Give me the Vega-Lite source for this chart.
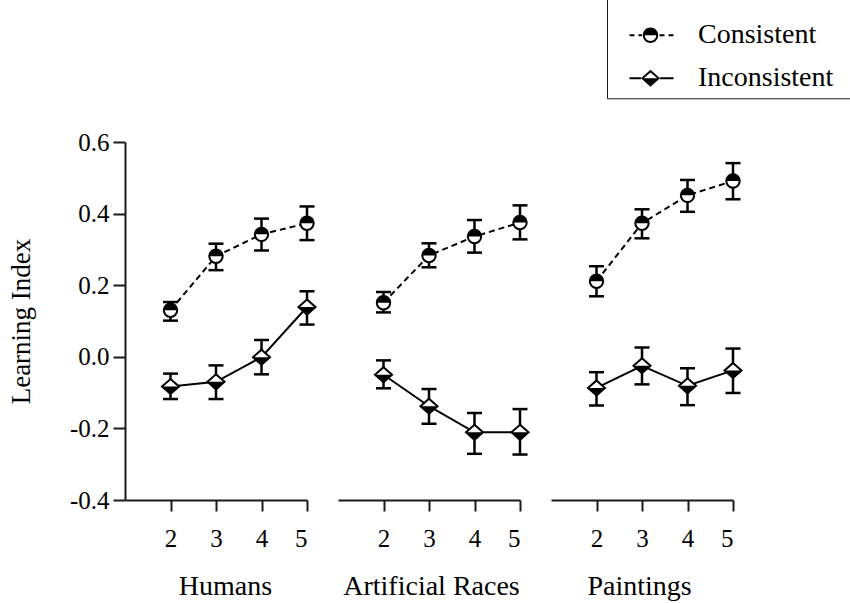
{
  "$schema": "https://vega.github.io/schema/vega-lite/v6.json",
  "background": "white",
  "padding": {"left": 7, "top": -3, "right": 0, "bottom": 2},
  "config": {
    "font": "Liberation Serif",
    "view": {"stroke": null},
    "axis": {
      "grid": false,
      "domainColor": "#1a1a1a", "domainWidth": 2,
      "tickColor": "#1a1a1a", "tickWidth": 2,
      "labelColor": "black", "titleColor": "black",
      "labelFont": "Liberation Serif", "titleFont": "Liberation Serif",
      "titleFontWeight": "normal"
    },
    "axisX": {"tickSize": 11, "labelFontSize": 25, "labelPadding": 15, "labelAngle": 0, "titleFontSize": 28, "titlePadding": 21},
    "axisY": {"tickSize": 12, "labelFontSize": 25, "labelPadding": 4, "titleFontSize": 27, "titlePadding": 34},
    "legend": {
      "direction": "vertical",
      "titleFontSize": 10, "titlePadding": 7,
      "padding": 6, "rowPadding": 15, "labelOffset": 33.5, "symbolOffset": 23.5, "labelLimit": 300,
      "labelFont": "Liberation Serif", "labelFontSize": 28, "labelColor": "black",
      "symbolSize": 180, "symbolStrokeWidth": 0, "symbolFillColor": "black", "symbolOpacity": 1,
      "strokeColor": "#1a1a1a"
    }
  },
  "datasets": {
    "scores": [
      {"category": "Humans", "level": 2, "series": "Consistent", "mean": 0.130, "lo": 0.101, "hi": 0.153},
      {"category": "Humans", "level": 3, "series": "Consistent", "mean": 0.281, "lo": 0.242, "hi": 0.316},
      {"category": "Humans", "level": 4, "series": "Consistent", "mean": 0.342, "lo": 0.297, "hi": 0.386},
      {"category": "Humans", "level": 5, "series": "Consistent", "mean": 0.373, "lo": 0.326, "hi": 0.420},
      {"category": "Humans", "level": 2, "series": "Inconsistent", "mean": -0.083, "lo": -0.118, "hi": -0.047},
      {"category": "Humans", "level": 3, "series": "Inconsistent", "mean": -0.070, "lo": -0.118, "hi": -0.024},
      {"category": "Humans", "level": 4, "series": "Inconsistent", "mean": -0.001, "lo": -0.049, "hi": 0.047},
      {"category": "Humans", "level": 5, "series": "Inconsistent", "mean": 0.139, "lo": 0.090, "hi": 0.183},
      {"category": "Artificial Races", "level": 2, "series": "Consistent", "mean": 0.151, "lo": 0.124, "hi": 0.181},
      {"category": "Artificial Races", "level": 3, "series": "Consistent", "mean": 0.283, "lo": 0.250, "hi": 0.317},
      {"category": "Artificial Races", "level": 4, "series": "Consistent", "mean": 0.336, "lo": 0.291, "hi": 0.382},
      {"category": "Artificial Races", "level": 5, "series": "Consistent", "mean": 0.375, "lo": 0.328, "hi": 0.423},
      {"category": "Artificial Races", "level": 2, "series": "Inconsistent", "mean": -0.050, "lo": -0.088, "hi": -0.010},
      {"category": "Artificial Races", "level": 3, "series": "Inconsistent", "mean": -0.138, "lo": -0.187, "hi": -0.090},
      {"category": "Artificial Races", "level": 4, "series": "Inconsistent", "mean": -0.211, "lo": -0.271, "hi": -0.157},
      {"category": "Artificial Races", "level": 5, "series": "Inconsistent", "mean": -0.211, "lo": -0.273, "hi": -0.146},
      {"category": "Paintings", "level": 2, "series": "Consistent", "mean": 0.211, "lo": 0.169, "hi": 0.253},
      {"category": "Paintings", "level": 3, "series": "Consistent", "mean": 0.373, "lo": 0.331, "hi": 0.412},
      {"category": "Paintings", "level": 4, "series": "Consistent", "mean": 0.451, "lo": 0.405, "hi": 0.494},
      {"category": "Paintings", "level": 5, "series": "Consistent", "mean": 0.491, "lo": 0.440, "hi": 0.541},
      {"category": "Paintings", "level": 2, "series": "Inconsistent", "mean": -0.087, "lo": -0.136, "hi": -0.043},
      {"category": "Paintings", "level": 3, "series": "Inconsistent", "mean": -0.025, "lo": -0.077, "hi": 0.026},
      {"category": "Paintings", "level": 4, "series": "Inconsistent", "mean": -0.081, "lo": -0.135, "hi": -0.032},
      {"category": "Paintings", "level": 5, "series": "Inconsistent", "mean": -0.038, "lo": -0.101, "hi": 0.023}
    ]
  },
  "spacing": 18,
  "resolve": {"scale": {"x": "independent", "y": "independent"}},
  "hconcat": [
    {
      "width": 182, "height": 358,
      "data": {"name": "scores"},
      "transform": [{"filter": "datum.category === 'Humans'"}],
      "encoding": {
        "x": {"field": "level", "type": "quantitative", "scale": {"domain": [1, 5], "nice": false, "zero": false},
              "axis": {"values": [2, 3, 4, 5], "title": "Humans", "titleX": 100}},
        "y": {"field": "mean", "type": "quantitative", "scale": {"domain": [-0.4, 0.6], "nice": false, "zero": false},
              "axis": {"values": [-0.4, -0.2, 0, 0.2, 0.4, 0.6], "title": "Learning Index",
                       "labelExpr": "replace(format(datum.value, '.1f'), '\u2212', '-')"}}
      },
      "layer": [
        {"data": {"values": [{}]}, "mark": {"type": "rule", "strokeDash": [2, 3], "color": "#a0a0a0", "strokeWidth": 1.5},
         "encoding": {"x": {"datum": 1.1}, "x2": {"datum": 5.68}, "y": {"datum": 0}}},
        {"transform": [{"filter": "datum.series === 'Consistent'"}],
         "mark": {"type": "line", "color": "black", "strokeWidth": 2, "strokeDash": [6, 4]}, "encoding": {}},
        {"transform": [{"filter": "datum.series === 'Inconsistent'"}],
         "mark": {"type": "line", "color": "black", "strokeWidth": 2}, "encoding": {}},
        {"mark": {"type": "rule", "color": "black", "strokeWidth": 2.5},
         "encoding": {"y": {"field": "lo", "type": "quantitative"}, "y2": {"field": "hi"}}},
        {"mark": {"type": "tick", "orient": "horizontal", "size": 15, "thickness": 2.5, "color": "black", "opacity": 1},
         "encoding": {"y": {"field": "hi", "type": "quantitative"}}},
        {"mark": {"type": "tick", "orient": "horizontal", "size": 15, "thickness": 2.5, "color": "black", "opacity": 1},
         "encoding": {"y": {"field": "lo", "type": "quantitative"}}},
        {"mark": {"type": "point", "filled": true, "fill": "white", "stroke": "black", "strokeWidth": 2, "size": 180, "opacity": 1},
         "encoding": {"shape": {"condition": {"test": "datum.series === 'Consistent'", "value": "circle"}, "value": "M0,-1.12L1.27,0L0,1.12L-1.27,0Z"}}},
        {"mark": {"type": "point", "filled": true, "color": "black", "strokeWidth": 0, "size": 180, "opacity": 1},
         "encoding": {"shape": {"condition": {"test": "datum.series === 'Consistent'", "value": "M-1,0A1,1,0,0,1,1,0Z"}, "value": "M-1.27,0L1.27,0L0,1.12Z"}}},
        {"data": {"values": [{}]}, "mark": {"type": "rule", "color": "#1a1a1a", "strokeWidth": 2},
         "encoding": {"x": {"datum": 5}, "y": {"datum": -0.372}, "y2": {"datum": -0.428}}}
      ]
    },
    {
      "width": 182, "height": 358,
      "data": {"name": "scores"},
      "transform": [{"filter": "datum.category === 'Artificial Races'"}],
      "encoding": {
        "x": {"field": "level", "type": "quantitative", "scale": {"domain": [1, 5], "nice": false, "zero": false},
              "axis": {"values": [2, 3, 4, 5], "title": "Artificial Races", "titleX": 93}},
        "y": {"field": "mean", "type": "quantitative", "scale": {"domain": [-0.4, 0.6], "nice": false, "zero": false}, "axis": null}
      },
      "layer": [
        {"data": {"values": [{}]}, "mark": {"type": "rule", "strokeDash": [2, 3], "color": "#a0a0a0", "strokeWidth": 1.5},
         "encoding": {"x": {"datum": 1}, "x2": {"datum": 5.68}, "y": {"datum": 0}}},
        {"transform": [{"filter": "datum.series === 'Consistent'"}],
         "mark": {"type": "line", "color": "black", "strokeWidth": 2, "strokeDash": [6, 4]}, "encoding": {}},
        {"transform": [{"filter": "datum.series === 'Inconsistent'"}],
         "mark": {"type": "line", "color": "black", "strokeWidth": 2}, "encoding": {}},
        {"mark": {"type": "rule", "color": "black", "strokeWidth": 2.5},
         "encoding": {"y": {"field": "lo", "type": "quantitative"}, "y2": {"field": "hi"}}},
        {"mark": {"type": "tick", "orient": "horizontal", "size": 15, "thickness": 2.5, "color": "black", "opacity": 1},
         "encoding": {"y": {"field": "hi", "type": "quantitative"}}},
        {"mark": {"type": "tick", "orient": "horizontal", "size": 15, "thickness": 2.5, "color": "black", "opacity": 1},
         "encoding": {"y": {"field": "lo", "type": "quantitative"}}},
        {"mark": {"type": "point", "filled": true, "fill": "white", "stroke": "black", "strokeWidth": 2, "size": 180, "opacity": 1},
         "encoding": {"shape": {"condition": {"test": "datum.series === 'Consistent'", "value": "circle"}, "value": "M0,-1.12L1.27,0L0,1.12L-1.27,0Z"}}},
        {"mark": {"type": "point", "filled": true, "color": "black", "strokeWidth": 0, "size": 180, "opacity": 1},
         "encoding": {"shape": {"condition": {"test": "datum.series === 'Consistent'", "value": "M-1,0A1,1,0,0,1,1,0Z"}, "value": "M-1.27,0L1.27,0L0,1.12Z"}}},
        {"data": {"values": [{}]}, "mark": {"type": "rule", "color": "#1a1a1a", "strokeWidth": 2},
         "encoding": {"x": {"datum": 1}, "y": {"datum": -0.372}, "y2": {"datum": -0.428}}},
        {"data": {"values": [{}]}, "mark": {"type": "rule", "color": "#1a1a1a", "strokeWidth": 2},
         "encoding": {"x": {"datum": 5}, "y": {"datum": -0.372}, "y2": {"datum": -0.428}}}
      ]
    },
    {
      "width": 182, "height": 358,
      "data": {"name": "scores"},
      "transform": [{"filter": "datum.category === 'Paintings'"}],
      "encoding": {
        "x": {"field": "level", "type": "quantitative", "scale": {"domain": [1, 5], "nice": false, "zero": false},
              "axis": {"values": [2, 3, 4, 5], "title": "Paintings", "titleX": 88}},
        "y": {"field": "mean", "type": "quantitative", "scale": {"domain": [-0.4, 0.6], "nice": false, "zero": false}, "axis": null}
      },
      "layer": [
        {"data": {"values": [{}]}, "mark": {"type": "rule", "strokeDash": [2, 3], "color": "#a0a0a0", "strokeWidth": 1.5},
         "encoding": {"x": {"datum": 1}, "x2": {"datum": 4.95}, "y": {"datum": 0}}},
        {"transform": [{"filter": "datum.series === 'Consistent'"}],
         "mark": {"type": "line", "color": "black", "strokeWidth": 2, "strokeDash": [6, 4]}, "encoding": {}},
        {"transform": [{"filter": "datum.series === 'Inconsistent'"}],
         "mark": {"type": "line", "color": "black", "strokeWidth": 2}, "encoding": {}},
        {"mark": {"type": "rule", "color": "black", "strokeWidth": 2.5},
         "encoding": {"y": {"field": "lo", "type": "quantitative"}, "y2": {"field": "hi"}}},
        {"mark": {"type": "tick", "orient": "horizontal", "size": 15, "thickness": 2.5, "color": "black", "opacity": 1},
         "encoding": {"y": {"field": "hi", "type": "quantitative"}}},
        {"mark": {"type": "tick", "orient": "horizontal", "size": 15, "thickness": 2.5, "color": "black", "opacity": 1},
         "encoding": {"y": {"field": "lo", "type": "quantitative"}}},
        {"mark": {"type": "point", "filled": true, "fill": "white", "stroke": "black", "strokeWidth": 2, "size": 180, "opacity": 1},
         "encoding": {"shape": {"condition": {"test": "datum.series === 'Consistent'", "value": "circle"}, "value": "M0,-1.12L1.27,0L0,1.12L-1.27,0Z"}}},
        {"mark": {"type": "point", "filled": true, "color": "black", "strokeWidth": 0, "size": 180, "opacity": 1},
         "encoding": {"shape": {"condition": {"test": "datum.series === 'Consistent'", "value": "M-1,0A1,1,0,0,1,1,0Z"}, "value": "M-1.27,0L1.27,0L0,1.12Z"}}},
        {"mark": {"type": "point", "filled": true, "color": "black", "strokeWidth": 0, "size": 180, "opacity": 0},
         "encoding": {"shape": {"field": "series", "type": "nominal",
           "scale": {"domain": ["Consistent", "Inconsistent"],
                     "range": ["M-1.15,0A1.15,1.15,0,0,1,1.15,0Z M1.15,0A1.15,1.15,0,0,1,-1.15,0L-0.85,0A0.85,0.85,0,0,0,0.85,0Z M-3.13,-0.16H-2.39V0.16H-3.13Z M-1.79,-0.16H-1.27V0.16H-1.79Z M1.34,-0.16H2.09V0.16H1.34Z M2.69,-0.16H3.43V0.16H2.69Z M30,0Z",
                               "M-1.42,0L1.42,0L0,1.27Z M-1.42,0L0,-1.27L1.42,0L1.01,0L0,-0.88L-1.01,0Z M-3.13,-0.16H-1.42V0.16H-3.13Z M1.42,-0.16H3.43V0.16H1.42Z M30,0Z"]},
           "legend": {"title": " ", "orient": "none", "legendX": 482, "legendY": -143.7,
             "encode": {"legend": {"strokeWidth": {"value": 2}}}}}}},
        {"data": {"values": [{}]}, "mark": {"type": "rule", "color": "#1a1a1a", "strokeWidth": 2},
         "encoding": {"x": {"datum": 1}, "y": {"datum": -0.372}, "y2": {"datum": -0.428}}}
      ]
    }
  ]
}
